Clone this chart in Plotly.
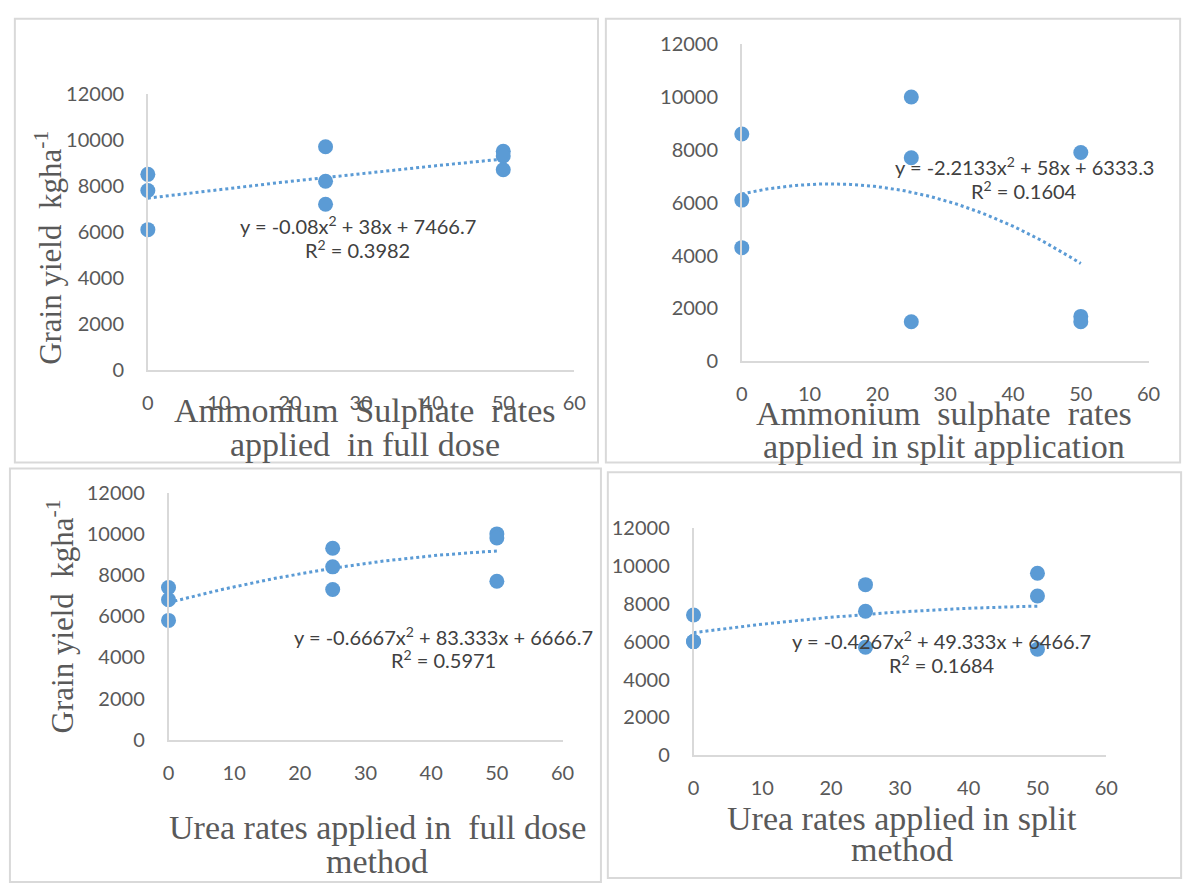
import numpy as np
import plotly.graph_objects as go

W, H = 1200, 890

# ---------------- data ----------------
rates = [0, 0, 0, 25, 25, 25, 50, 50, 50]
as_full = [8500, 7800, 6100, 9700, 8200, 7200, 9500, 9300, 8700]
as_split = [8600, 6100, 4300, 10000, 7700, 1500, 7900, 1700, 1500]
urea_full = [7400, 6800, 5800, 9300, 8400, 7300, 10000, 9800, 7700]
urea_split = [7400, 6000, 6000, 9000, 7600, 5700, 9600, 8400, 5600]

eq_as_full = ["y = -0.08x<sup>2</sup> + 38x + 7466.7", "R<sup>2</sup> = 0.3982"]
eq_as_split = ["y = -2.2133x<sup>2</sup> + 58x + 6333.3", "R<sup>2</sup> = 0.1604"]
eq_urea_full = ["y = -0.6667x<sup>2</sup> + 83.333x + 6666.7", "R<sup>2</sup> = 0.5971"]
eq_urea_split = ["y = -0.4267x<sup>2</sup> + 49.333x + 6466.7", "R<sup>2</sup> = 0.1684"]

xt_as_full = ["Ammonium\u00a0 Sulphate\u00a0 rates", "applied\u00a0 in full dose"]
xt_as_split = ["Ammonium\u00a0 sulphate\u00a0 rates", "applied in split application"]
xt_urea_full = ["Urea rates applied in\u00a0 full dose", "method"]
xt_urea_split = ["Urea rates applied in split", "method"]

y_title = "Grain yield\u00a0 kgha<sup>-1</sup>"

x_ticks = [0, 10, 20, 30, 40, 50, 60]
x_ticklabels = ["0", "10", "20", "30", "40", "50", "60"]
y_ticks = [0, 2000, 4000, 6000, 8000, 10000, 12000]
y_ticklabels = ["0", "2000", "4000", "6000", "8000", "10000", "12000"]

BLUE = "#5B9BD5"
AXIS = "#D9D9D9"
TICKC = "#595959"
EQC = "#404040"
SANS = "Lato"
SERIF = "Liberation Serif, Times New Roman, serif"

# panel layout in pixels: plot area (x0, x1, ytop, ybot), border, text positions
panels = [
    dict(y=as_full, eq=eq_as_full, xt=xt_as_full, ytitle=True,
         area=(144, 577, 83, 367), border=(9, 6, 601, 462),
         eqpos=(357, 218, 243), xtpos=(364, 409, 443), ytpos=(43, 241)),
    dict(y=as_split, eq=eq_as_split, xt=xt_as_split, ytitle=False,
         area=(747, 1160, 32, 358), border=(609, 6, 1192, 462),
         eqpos=(1034, 157, 182), xtpos=(952, 412, 446), ytpos=None),
    dict(y=urea_full, eq=eq_urea_full, xt=xt_urea_full, ytitle=True,
         area=(165, 565, 493, 747), border=(4, 468, 604, 893),
         eqpos=(444, 640, 664), xtpos=(377, 837, 872), ytpos=(55, 620)),
    dict(y=urea_split, eq=eq_urea_split, xt=xt_urea_split, ytitle=False,
         area=(698, 1117, 529, 763), border=(611, 472, 1193, 889),
         eqpos=(950, 644, 669), xtpos=(910, 828, 860), ytpos=None),
]

def px(x):
    return x / W

def py(y):
    return 1 - y / H

fig = go.Figure()
annotations = []
shapes = []
layout_axes = {}

for i, p in enumerate(panels, start=1):
    sfx = "" if i == 1 else str(i)
    xa, ya = "x" + sfx, "y" + sfx
    x0, x1, yt, yb = p["area"]

    # trendline: 2nd order polynomial fitted to the points
    coef = np.polyfit(rates, p["y"], 2)
    xs = np.linspace(min(rates), max(rates), 101)
    fig.add_trace(go.Scatter(x=xs, y=np.polyval(coef, xs), mode="lines",
                             line=dict(color=BLUE, width=3, dash="dot"),
                             xaxis=xa, yaxis=ya, showlegend=False, hoverinfo="skip",
                             cliponaxis=False))
    fig.add_trace(go.Scatter(x=rates, y=p["y"], mode="markers",
                             marker=dict(color=BLUE, size=15),
                             xaxis=xa, yaxis=ya, showlegend=False, cliponaxis=False))

    layout_axes["xaxis" + sfx] = dict(
        domain=[px(x0), px(x1)], range=[0, 60], anchor=ya,
        tickvals=x_ticks, ticktext=x_ticklabels,
        ticks="outside", ticklen=14, tickcolor="rgba(0,0,0,0)",
        showgrid=False, zeroline=False, showline=True, linecolor=AXIS, linewidth=1.5,
        tickfont=dict(family=SANS, size=20, color=TICKC), fixedrange=True)
    layout_axes["yaxis" + sfx] = dict(
        domain=[py(yb), py(yt)], range=[0, 12000], anchor=xa,
        tickvals=y_ticks, ticktext=y_ticklabels,
        ticks="outside", ticklen=18, tickcolor="rgba(0,0,0,0)",
        showgrid=False, zeroline=False, showline=True, linecolor=AXIS, linewidth=1.5,
        tickfont=dict(family=SANS, size=20, color=TICKC), fixedrange=True)

    bx0, by0, bx1, by1 = p["border"]
    shapes.append(dict(type="rect", xref="paper", yref="paper",
                       x0=px(bx0), x1=px(bx1), y0=py(by1), y1=py(by0),
                       line=dict(color="#D9D9D9", width=2), layer="below"))

    ex, ey1, ey2 = p["eqpos"]
    for txt, yy in zip(p["eq"], (ey1, ey2)):
        annotations.append(dict(text=txt, x=px(ex), y=py(yy), xref="paper", yref="paper",
                                xanchor="center", yanchor="middle", showarrow=False,
                                font=dict(family=SANS, size=20, color=EQC)))
    tx, ty1, ty2 = p["xtpos"]
    for txt, yy in zip(p["xt"], (ty1, ty2)):
        annotations.append(dict(text=txt, x=px(tx), y=py(yy), xref="paper", yref="paper",
                                xanchor="center", yanchor="middle", showarrow=False,
                                font=dict(family=SERIF, size=34, color=TICKC)))
    if p["ytitle"]:
        yx, yy = p["ytpos"]
        annotations.append(dict(text=y_title, x=px(yx), y=py(yy), xref="paper", yref="paper",
                                xanchor="center", yanchor="middle", showarrow=False, textangle=-90,
                                font=dict(family=SERIF, size=31, color=TICKC)))

fig.update_layout(width=W, height=H, margin=dict(l=0, r=0, t=0, b=0),
                  paper_bgcolor="white", plot_bgcolor="white",
                  annotations=annotations, shapes=shapes, **layout_axes)

fig.write_html("out.html", config={"displayModeBar": False},
               post_script="document.body.style.margin='0';document.body.style.overflow='hidden';")
